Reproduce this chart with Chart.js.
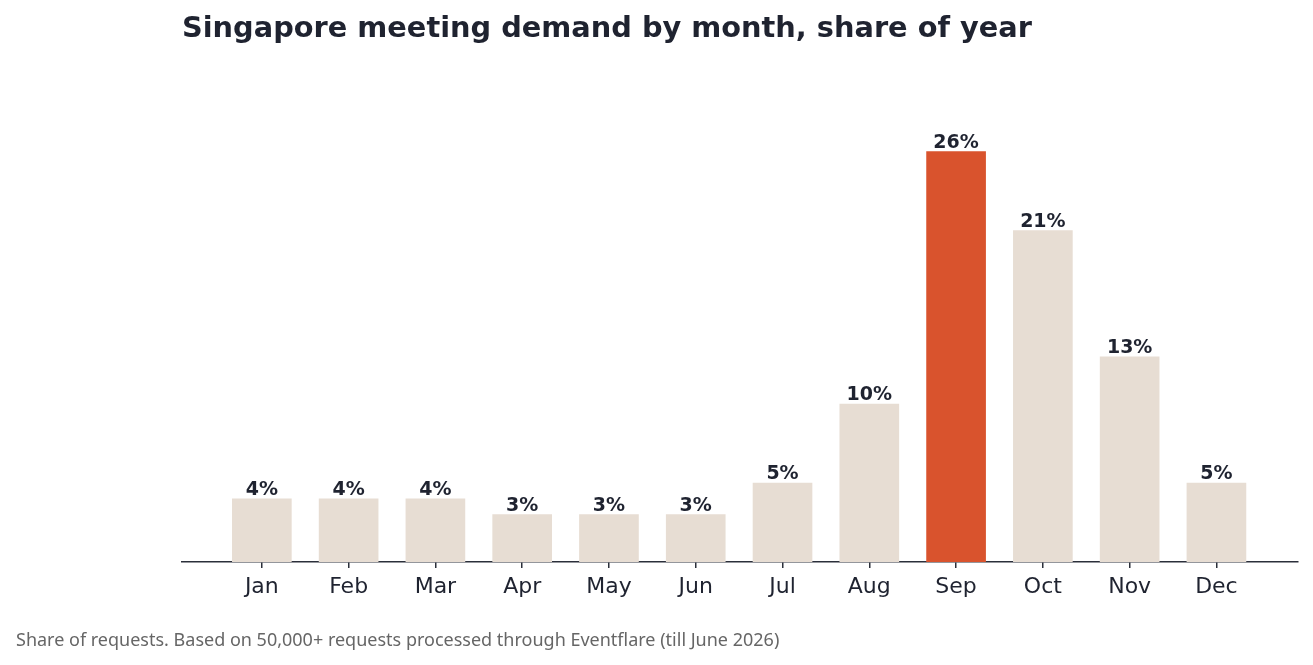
<!DOCTYPE html>
<html>
<head>
<meta charset="utf-8">
<script src="https://cdn.jsdelivr.net/npm/chart.js@4"></script>
<style>
  html, body { margin: 0; padding: 0; background: #fff; }
  #wrap { width: 1313px; height: 665px; }
</style>
</head>
<body>
<div id="wrap"><canvas id="demandChart"></canvas></div>
<script>
const months = ['Jan', 'Feb', 'Mar', 'Apr', 'May', 'Jun', 'Jul', 'Aug', 'Sep', 'Oct', 'Nov', 'Dec'];
const shares = [4, 4, 4, 3, 3, 3, 5, 10, 26, 21, 13, 5];
const highlightMonth = 'Sep';

const titleText = 'Singapore meeting demand by month, share of year';
const footerText = 'Share of requests. Based on 50,000+ requests processed through Eventflare (till June 2026)';

const ink = '#1f2330';
const barColor = '#e7ddd3';
const hotColor = '#d9532d';

// title, footer and value labels
const textPlugin = {
    id: 'textPlugin',
    afterDatasetsDraw(chart) {
        const c = chart.ctx;
        const area = chart.chartArea;
        c.save();
        c.fillStyle = ink;
        c.font = 'bold 28.8px "DejaVu Sans"';
        c.textAlign = 'left';
        c.textBaseline = 'alphabetic';
        c.fillText(titleText, area.left, 37);

        c.font = 'bold 19px "DejaVu Sans"';
        c.textAlign = 'center';
        chart.getDatasetMeta(0).data.forEach((bar, i) => {
            c.fillText(shares[i] + '%', bar.x, bar.y - 4);
        });

        c.fillStyle = '#666666';
        c.font = '18px "Noto Sans"';
        c.textAlign = 'left';
        c.fillText(footerText, 16, 646);
        c.restore();
    }
};

const ctx = document.getElementById('demandChart').getContext('2d');
const demandChart = new Chart(ctx, {
    type: 'bar',
    data: {
        datasets: [{
            data: shares.map((v, i) => ({ x: i, y: v })),
            backgroundColor: months.map(m => m === highlightMonth ? hotColor : barColor),
            barThickness: 59,
            borderWidth: 0
        }]
    },
    options: {
        responsive: true,
        maintainAspectRatio: false,
        animation: false,
        layout: {
            padding: { left: 182, right: 15, top: 120, bottom: 0 }
        },
        scales: {
            x: {
                type: 'linear',
                offset: false,
                min: -0.92,
                max: 11.94,
                afterBuildTicks: (scale) => {
                    scale.ticks = months.map((m, i) => ({ value: i }));
                },
                afterFit: (scale) => { scale.height = 103; },
                grid: {
                    offset: false,
                    drawOnChartArea: false,
                    drawTicks: true,
                    tickLength: 6,
                    color: '#2b2f3a',
                    lineWidth: 1.5
                },
                border: { display: true, color: '#2b2f3a', width: 1.5 },
                ticks: {
                    color: ink,
                    padding: 6,
                    maxRotation: 0,
                    autoSkip: false,
                    font: { size: 22, family: 'DejaVu Sans' },
                    callback: (v) => months[v]
                }
            },
            y: {
                display: false,
                min: 0,
                max: 28
            }
        },
        plugins: {
            legend: { display: false },
            tooltip: { enabled: false }
        }
    },
    plugins: [textPlugin]
});
</script>
</body>
</html>
